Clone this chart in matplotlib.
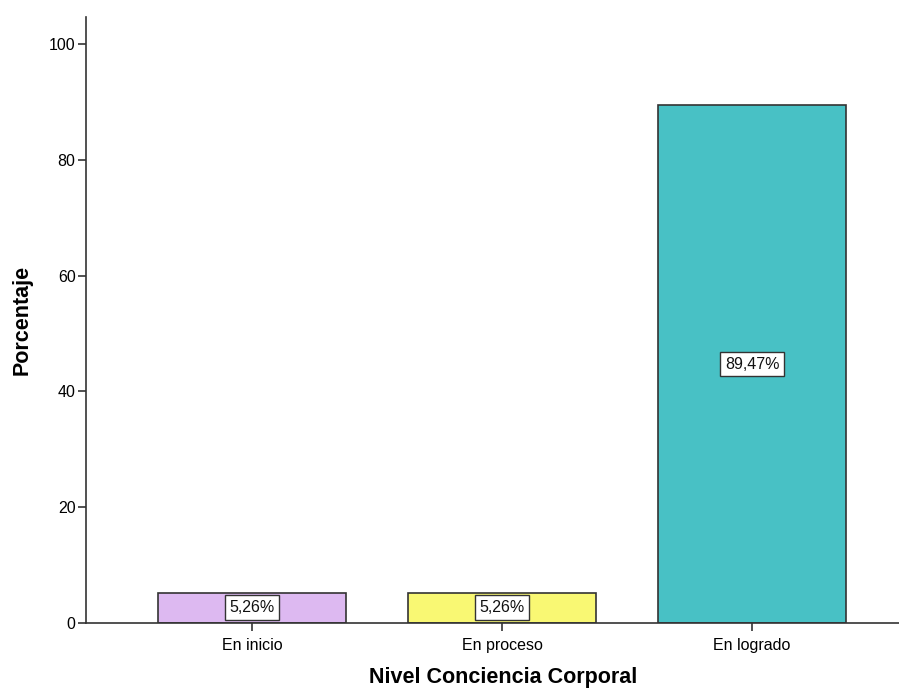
import matplotlib
matplotlib.use('Agg')
import matplotlib.pyplot as plt

# datos
categorias = ['En inicio', 'En proceso', 'En logrado']
porcentajes = [5.26, 5.26, 89.47]
etiquetas = ['5,26%', '5,26%', '89,47%']
colores = ['#ddb9f1', '#f9f873', '#48c1c5']

plt.rcParams['font.family'] = ['Liberation Sans', 'DejaVu Sans']

fig = plt.figure(figsize=(8.99, 6.90), dpi=100)
ax = fig.add_axes([86 / 899, (690 - 623) / 690, (899 - 86) / 899, (623 - 17) / 690])

x = range(len(categorias))
ax.bar(x, porcentajes, width=0.752, color=colores, edgecolor='#333333', linewidth=1.2, zorder=2)

for i, (v, t) in enumerate(zip(porcentajes, etiquetas)):
    ax.text(i, v / 2, t, ha='center', va='center', fontsize=11.5, color='#111111',
            bbox=dict(boxstyle='square,pad=0.3', facecolor='white', edgecolor='#333333', linewidth=1),
            zorder=3)

ax.set_xlim(-0.664, 2.588)
ax.set_ylim(0, 104.7)
ax.set_xticks(list(x))
ax.set_xticklabels(categorias, fontsize=11.5)
ax.set_yticks([0, 20, 40, 60, 80, 100])
ax.tick_params(axis='both', length=5.5, width=1.2, color='#333333', labelsize=11.5, pad=2)
ax.tick_params(axis='x', pad=5)

for s in ['top', 'right']:
    ax.spines[s].set_visible(False)
for s in ['left', 'bottom']:
    ax.spines[s].set_color('#333333')
    ax.spines[s].set_linewidth(1.2)

ax.set_xlabel('Nivel Conciencia Corporal', fontsize=15.5, fontweight='bold')
ax.set_ylabel('Porcentaje', fontsize=15.5, fontweight='bold')
ax.xaxis.set_label_coords((503 - 86) / 813, -(678 - 623) / 606, transform=ax.transAxes)
ax.xaxis.label.set_va('center')
ax.yaxis.set_label_coords(-(86 - 22) / 813, 0.5, transform=ax.transAxes)
ax.yaxis.label.set_va('center')

fig.savefig('out.png', dpi=100)
